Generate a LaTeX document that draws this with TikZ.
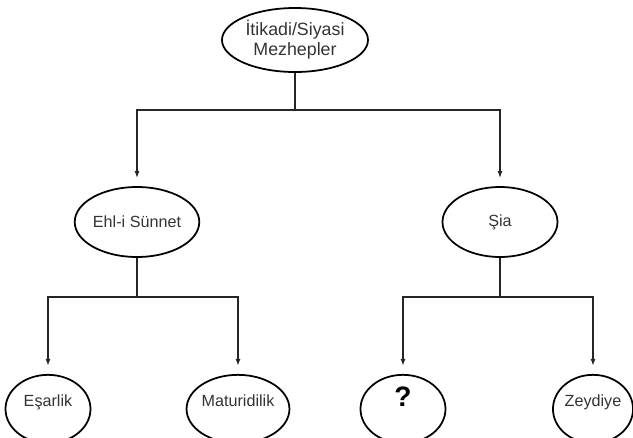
\documentclass[tikz,border=0pt]{standalone}
\usepackage{fontspec}
\setmainfont{Liberation Sans}
\usetikzlibrary{arrows.meta,shapes.geometric}

\tikzset{
  link/.style={draw=black!85,line width=1.5pt},
  arr/.style={link,-{Latex[length=0.21cm,width=0.15cm]},shorten >=0.24cm},
  leaf/.style={minimum width=2.55cm,minimum height=2.05cm,text height=0.3cm,text depth=0.45cm}
}

\begin{document}
\begin{tikzpicture}[x=0.03cm,y=-0.03cm]
\useasboundingbox (0,0) rectangle (633,437);
\clip (0,0) rectangle (633,437);
\begin{scope}[every node/.style={ellipse,draw,line width=1.5pt,inner sep=0pt,
              align=center,text=black!80,font=\fontsize{13.8}{16}\selectfont}]
    \node[minimum width=4.38cm,minimum height=1.92cm,
          font=\fontsize{15.2}{17}\selectfont] (mez) at (295,40) {İtikadi/Siyasi\\Mezhepler};
    \node[minimum width=3.45cm,minimum height=2.1cm] (ehl) at (137,222) {Ehl-i Sünnet};
    \node[minimum width=3.45cm,minimum height=2.1cm] (sia) at (500,222) {Şia};
    \node[leaf] (esar) at (48,409) {Eşarlik};
    \node[leaf] (matur) at (238,409) {Maturidilik};
    \node[leaf,font=\fontsize{24}{26}\selectfont\bfseries,text=black] (soru) at (403,409) {?};
    \node[leaf,minimum width=2.4cm] (zeyd) at (593,409) {Zeydiye};
\end{scope}
\coordinate (j1) at (295,110);
\coordinate (j2) at (137,297);
\coordinate (j3) at (500,297);
\begin{scope}
    \draw[link] (mez) -- (j1);
    \draw[arr] (j1) -| (ehl);
    \draw[arr] (j1) -| (sia);
    \draw[link] (ehl) -- (j2);
    \draw[arr] (j2) -| (esar);
    \draw[arr] (j2) -| (matur);
    \draw[link] (sia) -- (j3);
    \draw[arr] (j3) -| (soru);
    \draw[arr] (j3) -| (zeyd);
\end{scope}
\end{tikzpicture}
\end{document}
